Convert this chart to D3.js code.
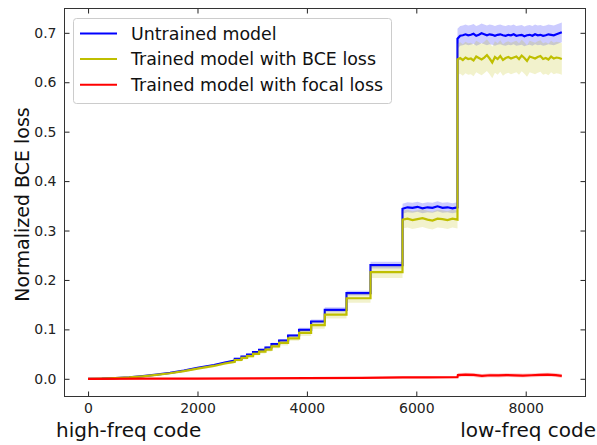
<!DOCTYPE html>
<html>
<head>
<meta charset="utf-8">
<script src="https://cdn.jsdelivr.net/npm/d3@7"></script>
<style>
html,body{margin:0;padding:0;background:#fff;}
svg{display:block;font-family:"DejaVu Sans",sans-serif;}
</style>
</head>
<body>
<svg id="chart" width="597" height="445"></svg>
<script>
// ---------------- data ----------------
const xTicks = [0, 2000, 4000, 6000, 8000];
const yTicks = [0.0, 0.1, 0.2, 0.3, 0.4, 0.5, 0.6, 0.7];
const seriesNames = ["Untrained model", "Trained model with BCE loss", "Trained model with focal loss"];
const lastCode = 8660;

// smooth part (before the first visible step)
const smoothX      = [0, 250, 500, 750, 1000, 1250, 1500, 1750, 2000, 2300, 2500, 2682];
const blueSmooth   = [0, 0.0004, 0.0015, 0.003, 0.0055, 0.0085, 0.012, 0.0165, 0.022, 0.028, 0.033, 0.037];
const yellowSmooth = [0, 0.0004, 0.0014, 0.0028, 0.0051, 0.0079, 0.0112, 0.0154, 0.0206, 0.026, 0.031, 0.0345];

// step part: start code of each step, level of each model
const stepStart    = [2682, 2804, 2907, 3016, 3126, 3243, 3353, 3492, 3656, 3857, 4077, 4327, 4724, 5163, 5748, 6753];
const blueStep     = [0.0405, 0.0451, 0.0492, 0.054, 0.0587, 0.0633, 0.0702, 0.0775, 0.0876, 0.0991, 0.1159, 0.1396, 0.1734, 0.2300, 0.3460, 0.6950];
const yellowStep   = [0.0380, 0.0423, 0.0460, 0.0505, 0.0550, 0.0592, 0.0657, 0.0725, 0.0820, 0.0928, 0.1085, 0.1298, 0.1630, 0.2160, 0.3230, 0.6480];
const blueSpread   = [0.002, 0.002, 0.002, 0.002, 0.002, 0.003, 0.003, 0.003, 0.003, 0.004, 0.004, 0.005, 0.005, 0.007, 0.010, 0.020];
const yellowSpread = [0.003, 0.003, 0.003, 0.003, 0.004, 0.004, 0.004, 0.005, 0.005, 0.006, 0.007, 0.008, 0.009, 0.012, 0.018, 0.032];

// noisy values inside the two last steps
const blueMid   = [0.344, 0.347, 0.346, 0.348, 0.345, 0.347, 0.346, 0.349, 0.346, 0.347, 0.345, 0.347];
const yellowMid = [0.322, 0.324, 0.321, 0.323, 0.325, 0.322, 0.320, 0.324, 0.323, 0.321, 0.324, 0.322];
const blueTop   = [0.688, 0.694, 0.695, 0.697, 0.695, 0.696, 0.698, 0.694, 0.696, 0.699, 0.697, 0.695, 0.697, 0.696, 0.694, 0.696, 0.697, 0.695, 0.694, 0.696,
                   0.695, 0.697, 0.694, 0.695, 0.696, 0.693, 0.695, 0.696, 0.694, 0.697, 0.695, 0.696, 0.694, 0.695, 0.697, 0.696, 0.695, 0.697, 0.699, 0.701];
const yellowTop = [0.646, 0.649, 0.645, 0.650, 0.647, 0.648, 0.644, 0.652, 0.649, 0.646, 0.650, 0.655, 0.648, 0.640, 0.651, 0.647, 0.653, 0.645, 0.649, 0.651,
                   0.648, 0.650, 0.652, 0.647, 0.654, 0.649, 0.643, 0.652, 0.650, 0.648, 0.651, 0.653, 0.647, 0.649, 0.646, 0.652, 0.648, 0.650, 0.649, 0.647];

// focal-loss model
const redX      = [0, 1000, 2000, 3000, 4000, 5000, 5748, 6200, 6753, 6760, 6900, 7050, 7200, 7350, 7500, 7650, 7800, 7950, 8100, 8250, 8400, 8550, 8660];
const redValues = [0, 0.0003, 0.0005, 0.0008, 0.0012, 0.0018, 0.0028, 0.0030, 0.0034, 0.0075, 0.0085, 0.0078, 0.0058, 0.0072, 0.0068, 0.0075, 0.0070, 0.0066, 0.0072, 0.0078, 0.0085, 0.0075, 0.0058];
const redSpread = [0.0005, 0.001, 0.0015, 0.0015, 0.002, 0.002, 0.002, 0.002, 0.002, 0.004, 0.004, 0.004, 0.004, 0.004, 0.004, 0.004, 0.004, 0.004, 0.004, 0.004, 0.004, 0.004, 0.004];

// ---------------- build point lists ----------------
function buildSeries(smooth, steps, spreads, mid, top) {
  const pts = [];
  smoothX.forEach((x, i) => pts.push({x, y: smooth[i], s: Math.max(0.0005, spreads[0] * (i / (smoothX.length - 1)))}));
  for (let k = 0; k < stepStart.length; k++) {
    const x0 = stepStart[k];
    const x1 = k + 1 < stepStart.length ? stepStart[k + 1] : lastCode;
    const s = spreads[k];
    let vals = null;
    if (k === stepStart.length - 2) vals = mid;
    if (k === stepStart.length - 1) vals = top;
    if (vals) {
      vals.forEach((v, i) => pts.push({x: x0 + (x1 - x0) * i / (vals.length - 1), y: v, s}));
    } else {
      pts.push({x: x0, y: steps[k], s});
      pts.push({x: x1, y: steps[k], s});
    }
  }
  return pts;
}
const bluePts = buildSeries(blueSmooth, blueStep, blueSpread, blueMid, blueTop);
const yellowPts = buildSeries(yellowSmooth, yellowStep, yellowSpread, yellowMid, yellowTop);
const redPts = redX.map((x, i) => ({x, y: redValues[i], s: redSpread[i]}));

// ---------------- chart ----------------
const svg = d3.select("#chart");
const L = 64.5, R = 585.5, T = 8.5, B = 396.5;
const x = d3.scaleLinear().domain([-431, 9093]).range([L, R]);
const y = d3.scaleLinear().domain([-0.0358, 0.7492]).range([B, T]);

const plot = svg.append("g");
svg.append("clipPath").attr("id", "clip").append("rect")
  .attr("x", L).attr("y", T).attr("width", R - L).attr("height", B - T);
plot.attr("clip-path", "url(#clip)");

const area = d3.area().x(d => x(d.x)).y0(d => y(d.y - d.s)).y1(d => y(d.y + d.s));
const line = d3.line().x(d => x(d.x)).y(d => y(d.y));

const series = [
  {pts: bluePts, color: "#0000ff"},
  {pts: yellowPts, color: "#bfbf00"},
  {pts: redPts, color: "#ff0000"}
];
series.forEach(sr => {
  plot.append("path").attr("d", area(sr.pts)).attr("fill", sr.color).attr("fill-opacity", 0.2).attr("stroke", "none");
  plot.append("path").attr("d", line(sr.pts)).attr("fill", "none").attr("stroke", sr.color)
    .attr("stroke-width", 2.2).attr("stroke-linejoin", "miter");
});

// axes (ticks inward on all four sides)
const tickLen = 5;
const axB = svg.append("g").attr("transform", `translate(0,${B})`)
  .call(d3.axisBottom(x).tickValues(xTicks).tickSize(-tickLen).tickPadding(7).tickFormat(d3.format("d")));
const axT = svg.append("g").attr("transform", `translate(0,${T})`)
  .call(d3.axisTop(x).tickValues(xTicks).tickSize(-tickLen).tickFormat(""));
const axL = svg.append("g").attr("transform", `translate(${L},0)`)
  .call(d3.axisLeft(y).tickValues(yTicks).tickSize(-tickLen).tickPadding(8).tickFormat(d3.format(".1f")));
const axR = svg.append("g").attr("transform", `translate(${R},0)`)
  .call(d3.axisRight(y).tickValues(yTicks).tickSize(-tickLen).tickFormat(""));
[axB, axT, axL, axR].forEach(a => {
  a.select(".domain").remove();
  a.selectAll(".tick line").attr("stroke", "#222").attr("stroke-width", 1);
  a.selectAll(".tick text").attr("font-family", "DejaVu Sans").attr("font-size", 14).attr("fill", "#222");
});
svg.append("rect").attr("x", L).attr("y", T).attr("width", R - L).attr("height", B - T)
  .attr("fill", "none").attr("stroke", "#333").attr("stroke-width", 1);

// axis labels
svg.append("text").attr("transform", `translate(29,${(T + B) / 2 + 2}) rotate(-90)`)
  .attr("text-anchor", "middle").attr("font-size", 19).attr("fill", "#111").text("Normalized BCE loss");
svg.append("text").attr("x", 56).attr("y", 437).attr("font-size", 20).attr("fill", "#111").text("high-freq code");
svg.append("text").attr("x", 596).attr("y", 437).attr("text-anchor", "end").attr("font-size", 20).attr("fill", "#111").text("low-freq code");

// legend
const lg = svg.append("g");
lg.append("rect").attr("x", 73.5).attr("y", 18.5).attr("width", 318).attr("height", 85).attr("rx", 3)
  .attr("fill", "#fff").attr("fill-opacity", 0.8).attr("stroke", "#ccc").attr("stroke-width", 1);
seriesNames.forEach((name, i) => {
  const yy = 33.5 + i * 25.6;
  lg.append("line").attr("x1", 80).attr("x2", 117).attr("y1", yy).attr("y2", yy)
    .attr("stroke", series[i].color).attr("stroke-width", 2);
  lg.append("text").attr("x", 131).attr("y", yy + 6.2).attr("font-size", 17.4).attr("fill", "#111").text(name);
});
</script>
</body>
</html>
